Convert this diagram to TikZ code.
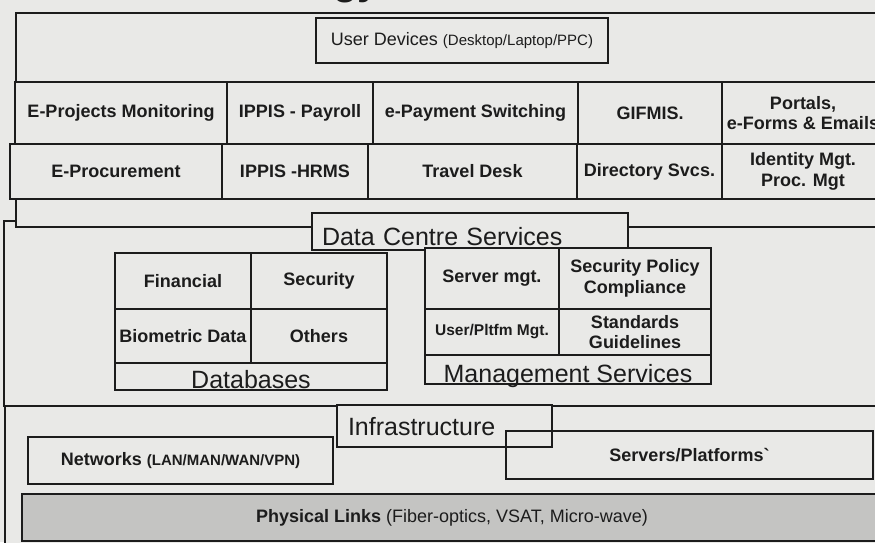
\documentclass[tikz,border=0pt]{standalone}
\usepackage{fontspec}
\setmainfont{Liberation Sans}
\usetikzlibrary{positioning}
\definecolor{paper}{RGB}{233,233,231}
\definecolor{linkband}{RGB}{196,196,194}
\definecolor{ink}{RGB}{28,28,28}

\begin{document}
\begin{tikzpicture}[x=1pt,y=-1pt,line width=1.1pt,color=ink,inner sep=0pt,outer sep=0pt]
\tikzstyle{layer} = [draw, fill=paper]
\tikzstyle{cell} = [rectangle, draw, fill=paper, align=center, font=\bfseries\fontsize{18}{20.5}\selectfont]
\tikzstyle{heading} = [rectangle, draw, fill=paper, anchor=north west, font=\fontsize{25}{28}\selectfont, text depth=0pt]
\path[use as bounding box, fill=paper] (0,0) rectangle (875,542);
\clip (0,0) rectangle (875,542);
\node[font=\bfseries\fontsize{40}{40}\selectfont, anchor=base west] (title) at (333,-5.5) {gy};
\draw[layer] (4,221) rectangle (890,406);
\draw[layer] (16,13) rectangle (890,227);
\draw[layer] (5,406) rectangle (890,560);
\node[cell, font=\fontsize{18}{20}\selectfont, minimum width=292pt, minimum height=45pt, anchor=north west] (UserDev) at (316,18) {User Devices {\fontsize{15}{18}\selectfont(Desktop/Laptop/PPC)}};
\node[cell, minimum width=212pt, minimum height=55pt, anchor=north west] (EProc) at (10,144) {E-Procurement};
\node[cell, minimum width=146pt, minimum height=55pt][right=0pt of EProc] (HRMS) {IPPIS -HRMS};
\node[cell, minimum width=209pt, minimum height=55pt][right=0pt of HRMS] (Travel) {Travel Desk};
\node[cell, minimum width=145pt, minimum height=55pt][right=0pt of Travel] (DirSvc) {Directory Svcs.};
\node[cell, minimum width=162pt, minimum height=55pt][right=0pt of DirSvc] (IdMgt) {Identity Mgt.\\Proc. Mgt};
\node[cell, minimum width=212pt, minimum height=62pt, anchor=north west] (EPM) at (15,82) {E-Projects Monitoring};
\node[cell, minimum width=146pt, minimum height=62pt][right=0pt of EPM] (Payroll) {IPPIS - Payroll};
\node[cell, minimum width=205pt, minimum height=62pt][right=0pt of Payroll] (EPay) {e-Payment Switching};
\node[cell, minimum width=144pt, minimum height=62pt][right=0pt of EPay] (GIFMIS) {GIFMIS.};
\node[cell, minimum width=162pt, minimum height=62pt][right=0pt of GIFMIS] (Portals) {Portals,\\e-Forms \& Emails};
\node[heading, text width=296pt, inner xsep=10pt, minimum height=37pt, align=left, text height=27pt] (DCS) at (312,213) {Data Centre Services};
\node[cell, minimum width=136pt, minimum height=56pt, anchor=north west] (Fin) at (115,253) {Financial};
\node[cell, minimum width=136pt, minimum height=56pt][right=0pt of Fin] (Sec) {Security};
\node[cell, minimum width=136pt, minimum height=54pt][below=0pt of Fin] (Bio) {Biometric Data};
\node[cell, minimum width=136pt, minimum height=54pt][below=0pt of Sec] (Oth) {Others};
\node[heading, minimum width=272pt, minimum height=27pt, text height=23pt] (DB) at (Bio.south west) {Databases};
\node[cell, minimum width=134pt, minimum height=61pt, anchor=north west] (SrvMgt) at (425,248) {Server mgt.};
\node[cell, minimum width=152pt, minimum height=61pt][right=0pt of SrvMgt] (SecPol) {Security Policy\\Compliance};
\node[cell, font=\bfseries\fontsize{15.5}{18}\selectfont, minimum width=134pt, minimum height=46pt][below=0pt of SrvMgt] (UsrMgt) {User/Pltfm Mgt.};
\node[cell, minimum width=152pt, minimum height=46pt][below=0pt of SecPol] (Std) {Standards\\Guidelines};
\node[heading, minimum width=286pt, minimum height=29pt, text height=26pt] (MgtSvc) at (UsrMgt.south west) {Management Services};
\node[heading, text width=193pt, inner xsep=11pt, minimum height=42pt, align=left, text height=18pt] (Infra) at (337,405) {Infrastructure};
\node[cell, minimum width=305pt, minimum height=47pt, anchor=north west] (Net) at (28,437) {Networks {\fontsize{15}{18}\selectfont(LAN/MAN/WAN/VPN)}};
\node[cell, fill=none, font=\bfseries\fontsize{18}{20}\selectfont, minimum width=367pt, minimum height=48pt, anchor=north west] (SrvPlat) at (506,431) {Servers/Platforms\textasciigrave};
\node[cell, fill=linkband, font=\fontsize{18}{20}\selectfont, minimum width=860pt, minimum height=47pt, anchor=north west] (PhysLinks) at (22,494) {\textbf{Physical Links} (Fiber-optics, VSAT, Micro-wave)};
\end{tikzpicture}
\end{document}
